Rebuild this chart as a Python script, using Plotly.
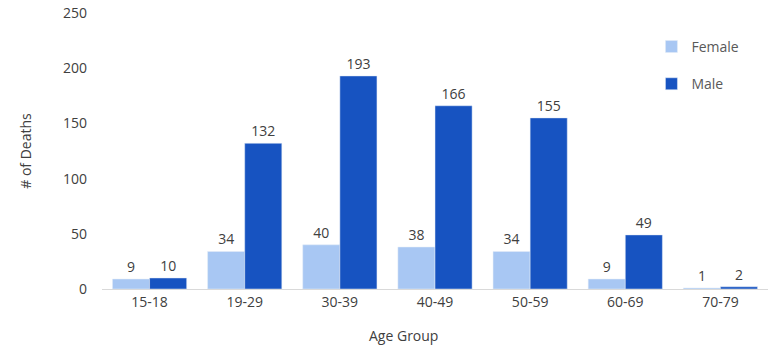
import plotly.graph_objects as go

age_groups = ["15-18", "19-29", "30-39", "40-49", "50-59", "60-69", "70-79"]
female = [9, 34, 40, 38, 34, 9, 1]
male = [10, 132, 193, 166, 155, 49, 2]

FONT = "Open Sans"
fig = go.Figure()
fig.add_trace(go.Bar(name="Female", x=age_groups, y=female, marker_color="#a8c7f3",
                     legendgroup="f", hoverinfo="skip",
                     text=female, textposition="outside", cliponaxis=False,
                     textfont=dict(color="#404040", size=14, family=FONT)))
fig.add_trace(go.Bar(name="Male", x=age_groups, y=male, marker_color="#1753c1",
                     legendgroup="m", hoverinfo="skip",
                     text=male, textposition="outside", cliponaxis=False,
                     textfont=dict(color="#404040", size=14, family=FONT)))

fig.update_layout(
    width=780, height=356,
    margin=dict(l=102, r=12, t=13, b=67, autoexpand=False),
    barmode="group", bargap=0.22, bargroupgap=0,
    plot_bgcolor="white", paper_bgcolor="white",
    font=dict(family=FONT, size=13, color="#595959"),
    showlegend=True,
    legend=dict(x=0.825, y=0.935, xanchor="left", yanchor="top",
                font=dict(size=14, color="#595959", family=FONT),
                tracegroupgap=16, itemwidth=30, bgcolor="rgba(0,0,0,0)"),
    xaxis=dict(showline=True, linecolor="#d9d9d9", linewidth=1, ticks="", automargin=False,
               tickfont=dict(size=14, color="#404040")),
    yaxis=dict(range=[0, 250], dtick=50, showgrid=False, zeroline=False, automargin=False,
               ticks="", ticklabelstandoff=14,
               tickfont=dict(size=14, color="#404040"),
               title=dict(text="# of Deaths", font=dict(size=14, color="#404040"), standoff=28)),
    annotations=[dict(text="Age Group", x=0.452, y=-0.167, xref="paper", yref="paper",
                      showarrow=False, xanchor="center", yanchor="middle",
                      font=dict(size=14, color="#404040", family=FONT))],
)
fig.write_html("out.html", config={"displayModeBar": False},
               post_script="document.body.style.margin='0';document.body.style.overflow='hidden';")
